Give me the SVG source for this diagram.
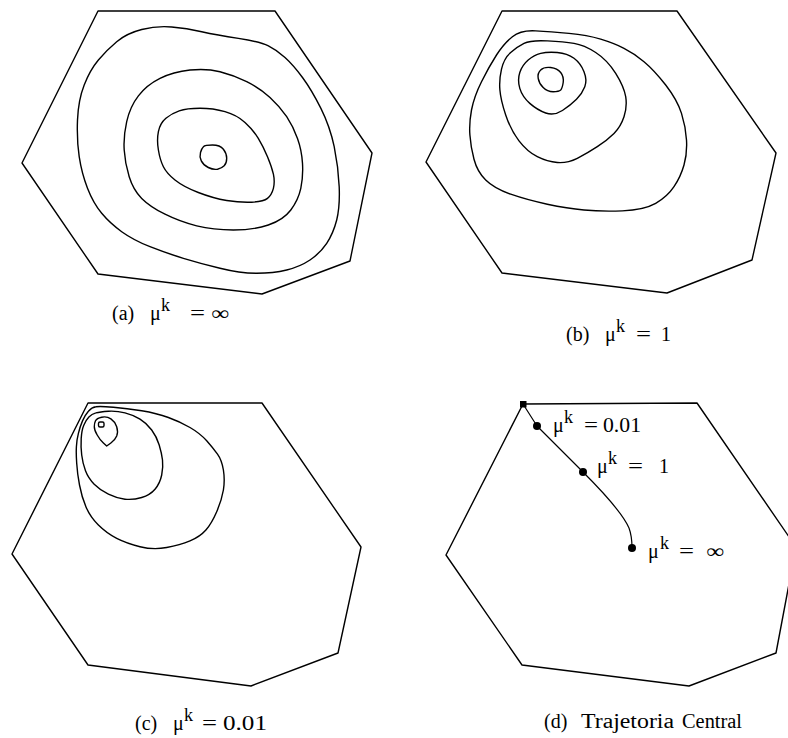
<svg xmlns="http://www.w3.org/2000/svg" width="788" height="738" viewBox="0 0 788 738">
<style>
.ln{fill:none;stroke:#000;stroke-width:1.4;stroke-linejoin:round;stroke-linecap:round}
.t{font-family:"Liberation Serif","Times New Roman",serif;font-size:20px;fill:#000}
.s{font-family:"Liberation Serif","Times New Roman",serif;font-size:18px;fill:#000}
</style>
<rect width="788" height="738" fill="#fff"/>

<g id="panel-a">
<polygon class="ln" points="98,11 275,11 372,153 350,261 262,294 98,274 22,163"/>
<path class="ln" d="M116.7,41.7 Q126.7,33.3 141.7,29.5 Q156.7,25.7 171.7,27 Q186.7,28.3 201.7,31.7 Q216.7,35 238.4,38.4 Q260,41.7 268.4,45.9 Q276.7,50 285,57.5 Q293.3,65 302.5,77.5 Q311.7,90 320.9,108.4 Q330,126.7 334.2,146.7 Q338.3,166.7 339.2,186.7 Q340,206.7 336.7,220 Q333.3,233.3 326.7,243.3 Q320,253.3 310,260 Q300,266.7 286.7,270 Q273.3,273.3 256.7,273.3 Q240,273.3 220,268.3 Q200,263.3 183.4,258.3 Q166.7,253.3 150,246.7 Q133.3,240 121.7,231.7 Q110,223.3 101.7,213.3 Q93.3,203.3 87.5,188.3 Q81.7,173.3 79.2,156.7 Q76.7,140 77.5,120 Q78.3,100 84.2,85 Q90,70 98.4,60 Q106.7,50 116.7,41.7 Z"/>
<path class="ln" d="M160,78.4 Q173.3,71.7 190,70 Q206.7,68.3 220,71.7 Q233.3,75 246.7,81.7 Q260,88.3 270,97.5 Q280,106.7 286.7,116.7 Q293.3,126.7 297.5,138.4 Q301.7,150 302.5,163.4 Q303.3,176.7 300.8,188.4 Q298.3,200 290.8,210 Q283.3,220 268.3,225 Q253.3,230 233.3,230 Q213.3,230 196.7,225.9 Q180,221.7 165,214.2 Q150,206.7 141.7,198.4 Q133.3,190 129.2,176.7 Q125,163.3 124.2,150 Q123.3,136.7 126.7,121.7 Q130,106.7 138.4,95.9 Q146.7,85 160,78.4 Z"/>
<path class="ln" d="M179.2,110.8 Q186.7,108.3 200,108.3 Q213.3,108.3 225,111.7 Q236.7,115 245,122.5 Q253.3,130 258.3,138.4 Q263.3,146.7 267.5,156.7 Q271.7,166.7 273.4,174.2 Q275,181.7 273.4,188.4 Q271.7,195 267.5,198.4 Q263.3,201.7 251.7,202.2 Q240,202.7 226.7,200.5 Q213.3,198.3 198.3,192.5 Q183.3,186.7 175,180 Q166.7,173.3 163.4,166.7 Q160,160 158.4,150 Q156.7,140 158.4,131.7 Q160,123.3 165.9,118.3 Q171.7,113.3 179.2,110.8 Z"/>
<path class="ln" d="M203.4,146.7 Q205,145 212.5,145 Q220,145 223.4,149.2 Q226.7,153.3 226.7,158.3 Q226.7,163.3 224.2,165.8 Q221.7,168.3 217.5,169.2 Q213.3,170 208.3,167.5 Q203.3,165 201.3,160.9 Q199.3,156.7 200.5,152.5 Q201.7,148.3 203.4,146.7 Z"/>
<text class="t" x="112" y="320">(a)</text>
<text class="t" x="150" y="320">μ</text>
<text class="s" x="161" y="311">k</text>
<text class="t" x="190" y="320" textLength="15" lengthAdjust="spacingAndGlyphs">=</text>
<text class="t" x="211" y="320" textLength="18" lengthAdjust="spacingAndGlyphs">∞</text>
</g>

<g id="panel-b">
<polygon class="ln" points="502,11 677,11 776,153 752,260 667,293 502,273 426,162"/>
<path class="ln" d="M512.4,36.7 Q520.7,30 535.7,30.9 Q550.7,31.7 569,33.4 Q587.3,35 600.7,39.2 Q614,43.3 624,48.3 Q634,53.3 644,61.7 Q654,70 665.7,85 Q677.3,100 681.5,113.4 Q685.7,126.7 686.5,140 Q687.3,153.3 684,165 Q680.7,176.7 674,186.7 Q667.3,196.7 655.7,203.4 Q644,210 622.4,210.9 Q600.7,211.7 584,210 Q567.3,208.3 547.3,204.2 Q527.3,200 510.7,194.2 Q494,188.3 485.7,180 Q477.3,171.7 474,159.2 Q470.7,146.7 469.9,135 Q469,123.3 471.5,110 Q474,96.7 481.5,81.7 Q489,66.7 496.5,55 Q504,43.3 512.4,36.7 Z"/>
<path class="ln" d="M524,43.4 Q530.7,40 547.4,40.9 Q564,41.7 574,43.4 Q584,45 595.7,52.5 Q607.3,60 615.7,73.4 Q624,86.7 625.7,96.7 Q627.3,106.7 624,116.7 Q620.7,126.7 614,133.4 Q607.3,140 597.3,146.7 Q587.3,153.3 577.3,158.3 Q567.3,163.3 557.3,162.5 Q547.3,161.7 537.3,156.7 Q527.3,151.7 519,140.9 Q510.7,130 505.7,115 Q500.7,100 499.9,90 Q499,80 501.5,69.2 Q504,58.3 510.7,52.5 Q517.3,46.7 524,43.4 Z"/>
<path class="ln" d="M540.7,53.4 Q547.3,51.7 557.3,52.5 Q567.3,53.3 574,58.3 Q580.7,63.3 584,71.7 Q587.3,80 584.8,86.7 Q582.3,93.3 576.5,99.2 Q570.7,105 562.4,110.5 Q554,116 545.7,113 Q537.3,110 529.8,103.4 Q522.3,96.7 519.8,88.4 Q517.3,80 519.8,72.5 Q522.3,65 528.2,60 Q534,55 540.7,53.4 Z"/>
<path class="ln" d="M540.7,70 Q544,66.7 550.7,67.5 Q557.3,68.3 560.7,72.5 Q564,76.7 563.2,82.5 Q562.3,88.3 560.7,90 Q559,91.7 553.2,91.7 Q547.3,91.7 543.2,87.5 Q539,83.3 538.2,78.3 Q537.3,73.3 540.7,70 Z"/>
<text class="t" x="566" y="341">(b)</text>
<text class="t" x="605" y="341">μ</text>
<text class="s" x="616" y="332">k</text>
<text class="t" x="636" y="341" textLength="15" lengthAdjust="spacingAndGlyphs">=</text>
<text class="t" x="661" y="341">1</text>
</g>

<g id="panel-c">
<polygon class="ln" points="88,403 262,403 361,547 338,653 251,686 88,665 12,554"/>
<path class="ln" d="M95.9,406.7 Q100,406 113.4,407.2 Q126.7,408.3 141.7,410.8 Q156.7,413.3 168.4,417.5 Q180,421.7 190,427.5 Q200,433.3 206.7,440.8 Q213.3,448.3 217.5,454.2 Q221.7,460 223.4,470 Q225,480 223.4,490 Q221.7,500 216.7,511.7 Q211.7,523.3 205.9,530 Q200,536.7 190,540.9 Q180,545 166.7,547.5 Q153.3,550 140,546.7 Q126.7,543.3 116.7,538.3 Q106.7,533.3 98.4,525 Q90,516.7 85.9,506.7 Q81.7,496.7 79.5,485 Q77.3,473.3 76.7,463.3 Q76,453.3 76.4,446.7 Q76.7,440 78.4,433.4 Q80,426.7 82.5,420.9 Q85,415 88.4,411.2 Q91.7,407.3 95.9,406.7 Z"/>
<path class="ln" d="M95.9,412.9 Q100,411.7 108.4,411.2 Q116.7,410.7 125,412.9 Q133.3,415 140,419.2 Q146.7,423.3 151.7,430 Q156.7,436.7 159.2,445 Q161.7,453.3 162.5,460 Q163.3,466.7 161.7,475 Q160,483.3 155,489.2 Q150,495 141.7,497.5 Q133.3,500 125,499.2 Q116.7,498.3 108.4,494.2 Q100,490 94.2,484.2 Q88.3,478.3 85.5,470.8 Q82.7,463.3 81.7,455 Q80.7,446.7 81.2,438.4 Q81.7,430 83.9,425 Q86,420 88.9,417 Q91.7,414 95.9,412.9 Z"/>
<path class="ln" d="M95.5,420.8 Q96.7,418.3 101.7,417.2 Q106.7,416 110.9,418.9 Q115,421.7 116.7,426.7 Q118.3,431.7 116.7,435.9 Q115,440 110.9,443 L106.7,446 L103.4,443 Q100,440 97.2,435 Q94.3,430 94.3,426.7 Q94.3,423.3 95.5,420.8 Z"/>
<rect class="ln" x="98.5" y="422" width="5.5" height="5" rx="1.5"/>
<text class="t" x="135" y="730">(c)</text>
<text class="t" x="173" y="730">μ</text>
<text class="s" x="184" y="721">k</text>
<text class="t" x="202" y="730" textLength="15" lengthAdjust="spacingAndGlyphs">=</text>
<text class="t" x="223" y="730" textLength="44" lengthAdjust="spacingAndGlyphs">0.01</text>
</g>

<g id="panel-d">
<polygon class="ln" points="523,404 697,403 796,547 776,653 689,686 522,665 446,555"/>
<text class="t" x="544" y="728">(d)</text>
<text class="t" x="581" y="728" textLength="93" lengthAdjust="spacingAndGlyphs">Trajetoria</text>
<text class="t" x="682" y="728" textLength="60" lengthAdjust="spacingAndGlyphs">Central</text>
</g>

<g id="connectors">
<path class="ln" style="stroke-width:1.2" d="M523,404 L537,426 L583,472 C603,492 622,512 629,528 Q632,536 632,548"/>
</g>

<g id="point-corner"><rect x="520" y="401" width="6.5" height="6.5" fill="#000"/></g>
<g id="point-001">
<circle cx="537" cy="426" r="4" fill="#000"/>
<text class="t" x="553" y="432">μ</text>
<text class="s" x="564" y="423">k</text>
<text class="t" x="584" y="432" textLength="14" lengthAdjust="spacingAndGlyphs">=</text>
<text class="t" x="603" y="432" textLength="38" lengthAdjust="spacingAndGlyphs">0.01</text>
</g>
<g id="point-1">
<circle cx="583" cy="472" r="4" fill="#000"/>
<text class="t" x="597" y="473">μ</text>
<text class="s" x="608" y="464">k</text>
<text class="t" x="628" y="473" textLength="15" lengthAdjust="spacingAndGlyphs">=</text>
<text class="t" x="659" y="473">1</text>
</g>
<g id="point-inf">
<circle cx="632" cy="548" r="4" fill="#000"/>
<text class="t" x="648" y="558">μ</text>
<text class="s" x="660" y="549">k</text>
<text class="t" x="679" y="558" textLength="15" lengthAdjust="spacingAndGlyphs">=</text>
<text class="t" x="706" y="558" textLength="18" lengthAdjust="spacingAndGlyphs">∞</text>
</g>
</svg>
